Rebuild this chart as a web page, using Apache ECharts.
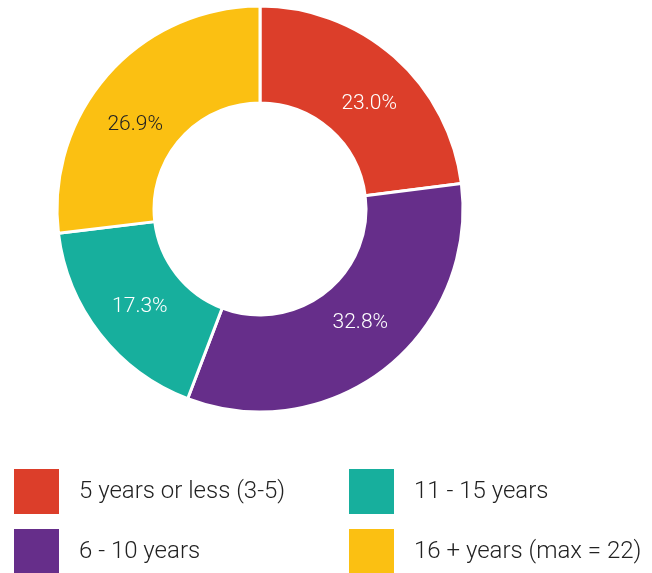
<!DOCTYPE html>
<html><head><meta charset="utf-8">
<script src="https://cdn.jsdelivr.net/npm/echarts@6/dist/echarts.min.js"></script>
<style>html,body{margin:0;padding:0;background:#fff}#c{width:652px;height:573px}</style>
</head><body><div id="c"></div>
<script>
const categories = ['5 years or less (3-5)', '6 - 10 years', '11 - 15 years', '16 + years (max = 22)'];
const values = [23.0, 32.8, 17.3, 26.9];
const colors = ['#DC3E2A', '#662E8A', '#17AF9D', '#FBC012'];
const labelColors = ['#ffffff', '#ffffff', '#ffffff', '#222222'];
const labelNudge = [[5, 13], [3, -10], [4, 1], [-7, 20]];
const legendPos = [[12, 467], [12, 527], [347, 467], [347, 527]];

const chart = echarts.init(document.getElementById('c'));
const legends = categories.map((name, i) => ({
  data: [name],
  left: legendPos[i][0],
  top: legendPos[i][1],
  icon: 'rect',
  itemWidth: 47,
  itemHeight: 47,
  padding: 0,
  selectedMode: false,
  textStyle: { fontFamily: 'Roboto', fontWeight: 300, fontSize: 24, color: '#222', padding: [0, 0, 0, 14] }
}));
chart.setOption({
  animation: false,
  legend: legends,
  series: [{
    type: 'pie',
    center: [260, 209],
    radius: [106, 203],
    startAngle: 90,
    clockwise: true,
    itemStyle: { borderColor: '#fff', borderWidth: 3 },
    label: {
      position: 'inside',
      fontFamily: 'Roboto',
      fontWeight: 300,
      fontSize: 21,
      formatter: p => p.value.toFixed(1) + '%'
    },
    labelLine: { show: false },
    emphasis: { disabled: true },
    data: categories.map((name, i) => ({
      name, value: values[i],
      itemStyle: { color: colors[i] },
      label: { color: labelColors[i], offset: labelNudge[i] }
    }))
  }]
});
</script></body></html>
